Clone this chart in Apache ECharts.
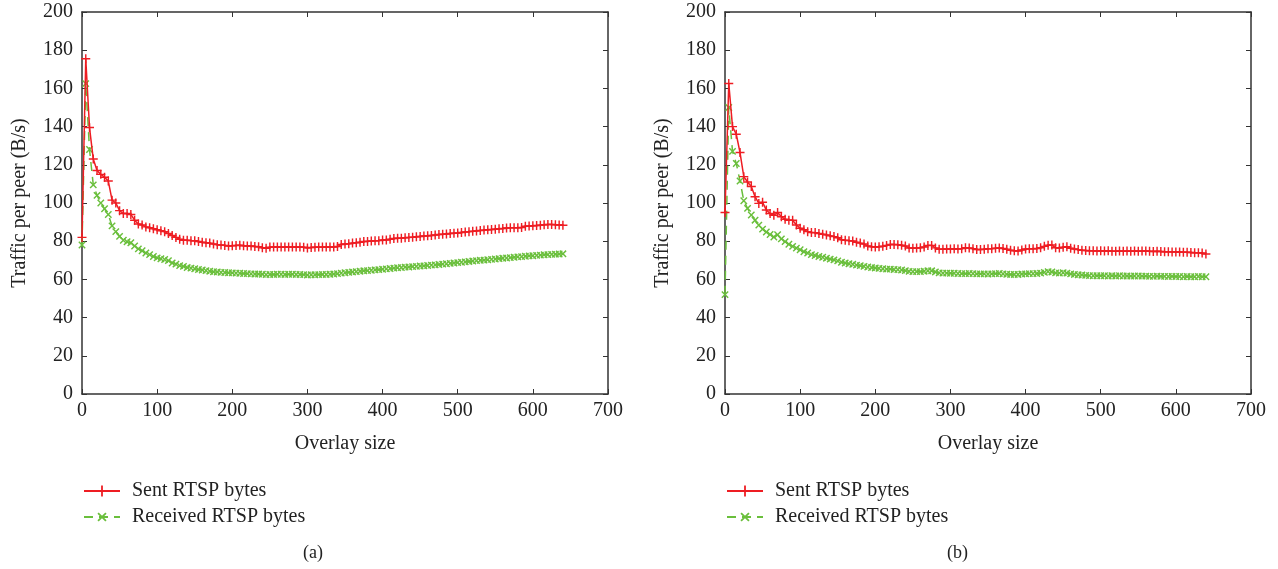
<!DOCTYPE html>
<html><head><meta charset="utf-8">
<script src="https://cdn.jsdelivr.net/npm/echarts@6/dist/echarts.min.js"></script>
<style>html,body{margin:0;padding:0;background:#fff}#c{width:1278px;height:569px}</style>
</head><body><div id="c"></div>
<script>
const overlaySizes = [0,5,10,15,20,25,30,35,40,45,50,55,60,65,70,75,80,85,90,95,100,105,110,115,120,125,130,135,140,145,150,155,160,165,170,175,180,185,190,195,200,205,210,215,220,225,230,235,240,245,250,255,260,265,270,275,280,285,290,295,300,305,310,315,320,325,330,335,340,345,350,355,360,365,370,375,380,385,390,395,400,405,410,415,420,425,430,435,440,445,450,455,460,465,470,475,480,485,490,495,500,505,510,515,520,525,530,535,540,545,550,555,560,565,570,575,580,585,590,595,600,605,610,615,620,625,630,635,640];

const sentA = [82,175.5,139.5,123,117,115,113.5,111.5,101.5,100,
96,94.5,94.5,94,91,89,88.5,87.5,87,86.5,
86,85.5,85,84,83,82,81,80.5,80.5,80.3,
80.2,79.8,79.5,79.2,79,78.5,78.2,78,77.8,77.5,
77.6,77.8,77.9,77.6,77.5,77.5,77.2,77.1,76.6,76.3,
76.9,77,77,76.9,76.9,77,77,76.9,77,76.8,
76.5,76.7,76.8,76.9,76.9,77,77,77,77.2,78.3,
78.5,78.7,79,79.2,79.5,79.8,79.9,80.1,80.2,80.3,
80.6,80.6,81,81.4,81.6,81.6,81.8,82,82.1,82.3,
82.5,82.7,82.8,83,83.2,83.5,83.6,83.8,84,84.2,
84.3,84.6,84.8,85,85.2,85.4,85.6,85.8,86,86.1,
86.3,86.5,86.6,86.9,87,87.1,87,87.2,87.8,88,
88.1,88.2,88.4,88.6,88.7,88.8,88.6,88.5,88.4];

const recvA = [78,162.5,128,109.5,104,100,97,94,88,85,
82.5,80.5,79.7,79.2,77.5,76,75,73.8,73,72,
71.3,70.8,70.4,69.8,68.6,68,67.2,66.8,66.2,65.9,
65.6,65.2,64.9,64.6,64.3,64,63.9,63.7,63.6,63.5,
63.4,63.3,63.2,63.1,63,62.9,62.8,62.8,62.7,62.5,
62.6,62.6,62.7,62.7,62.6,62.7,62.7,62.6,62.6,62.5,
62.3,62.4,62.4,62.5,62.6,62.6,62.7,62.8,63,63.3,
63.5,63.7,63.9,64.1,64.3,64.5,64.6,64.8,65,65.1,
65.3,65.5,65.7,65.9,66.1,66.2,66.4,66.5,66.7,66.8,
67,67.1,67.3,67.5,67.6,67.8,68,68.2,68.4,68.6,
68.8,69,69.2,69.4,69.6,69.8,70,70.1,70.3,70.5,
70.7,70.9,71.1,71.2,71.4,71.6,71.8,71.9,72.1,72.3,
72.4,72.6,72.7,72.9,73,73.1,73.2,73.3,73.4];

const sentB = [95,162.6,140,136,126.4,113.8,111,108.6,103.3,99.8,
100.4,96.3,94.5,93.6,95,92.8,91.5,91,91,88.5,
86.8,86,85,84.5,84.5,84,83.6,83.3,82.8,82.4,
81.8,80.8,80.5,80.3,80.1,79.5,79,78.5,77.5,77.1,
77,77.1,77.4,77.8,78.3,78.3,78.2,77.9,77.5,76.4,
76.3,76.4,76.6,77,77.8,77.8,76.5,75.8,75.8,75.9,
75.9,76,75.9,76.1,76.6,76.4,76.1,75.7,75.6,75.8,
76,76.1,76.3,76.5,76.2,75.8,75.3,75,74.9,75.4,
75.9,76,76,76.2,76.6,77.3,77.9,78,76.6,76.4,
76.8,77.1,76.3,75.9,75.6,75.3,75.1,75,75,74.9,
75,74.9,75,74.8,74.8,74.9,74.7,74.9,74.8,74.9,
74.8,74.9,74.9,74.7,74.6,74.7,74.6,74.5,74.5,74.4,
74.4,74.3,74.2,74.2,74.1,74,74,73.8,73.3];

const recvB = [52,150,127,120.7,111.5,101.2,97.2,93.7,91,88.4,
86.3,84.8,83.5,82.2,83.4,81.2,79.8,78.4,77.3,76.4,
75.5,74.5,73.8,73,72.5,72,71.6,71.1,70.6,70.2,
69.7,69,68.6,68.2,67.9,67.5,67.2,66.8,66.5,66.2,
66,65.8,65.6,65.4,65.4,65.2,65.1,64.9,64.6,64.2,
64.1,64.1,64.1,64.3,64.5,64.5,63.9,63.4,63.3,63.3,
63.2,63.2,63.1,63,63,63.1,63,62.9,62.9,62.9,
62.8,62.9,63,63.1,62.9,62.7,62.6,62.6,62.6,62.8,
62.9,63,63,63.1,63.3,63.7,64.1,63.9,63.4,63.3,
63.5,63.3,62.9,62.6,62.4,62.3,62.1,62,61.9,61.9,
61.9,61.9,61.8,61.9,61.8,61.9,61.8,61.8,61.7,61.8,
61.8,61.7,61.7,61.6,61.6,61.7,61.6,61.6,61.5,61.6,
61.5,61.5,61.4,61.5,61.4,61.4,61.5,61.4,61.4];

const seriesNames = ['Sent RTSP bytes', 'Received RTSP bytes'];
const xTicks = {min: 0, max: 700, interval: 100};
const yTicks = {min: 0, max: 200, interval: 20};
const panelLabels = ['(a)', '(b)'];

const FONT = 'Liberation Serif';
const RED = '#ee1d23';
const GREEN = '#6abf3c';
const PLUS = 'path://M4.2,0H5.8V10H4.2Z M0,4.2H10V5.8H0Z';

const chart = echarts.init(document.getElementById('c'), null, {renderer: 'canvas'});
const pair = ys => overlaySizes.map((x, i) => [x, ys[i]]);

const grids = [
  {left: 82, top: 12, width: 526, height: 382},
  {left: 725, top: 12, width: 526, height: 382}
];
const xAxes = [], yAxes = [];
grids.forEach((g, i) => {
  xAxes.push({
    type: 'value', gridIndex: i, ...xTicks, position: 'bottom',
    name: 'Overlay size', nameLocation: 'middle', nameGap: 40,
    nameTextStyle: {fontFamily: FONT, fontSize: 20, color: '#222'},
    axisLine: {show: true, onZero: false, lineStyle: {color: '#333', width: 1.5}},
    axisTick: {show: true, inside: true, length: 5, lineStyle: {color: '#333'}},
    axisLabel: {fontFamily: FONT, fontSize: 20, color: '#222', margin: 7},
    splitLine: {show: false}
  });
  xAxes.push({
    type: 'value', gridIndex: i, ...xTicks, position: 'top',
    axisLine: {show: true, onZero: false, lineStyle: {color: '#333', width: 1.5}},
    axisTick: {show: true, inside: true, length: 5, lineStyle: {color: '#333'}},
    axisLabel: {show: false}, splitLine: {show: false}
  });
  yAxes.push({
    type: 'value', gridIndex: i, ...yTicks, position: 'left',
    name: 'Traffic per peer (B/s)', nameLocation: 'middle', nameGap: 52,
    nameTextStyle: {fontFamily: FONT, fontSize: 20, color: '#222'},
    axisLine: {show: true, onZero: false, lineStyle: {color: '#333', width: 1.5}},
    axisTick: {show: true, inside: true, length: 5, lineStyle: {color: '#333'}},
    axisLabel: {fontFamily: FONT, fontSize: 20, color: '#222', margin: 9},
    splitLine: {show: false}
  });
  yAxes.push({
    type: 'value', gridIndex: i, ...yTicks, position: 'right',
    axisLine: {show: true, onZero: false, lineStyle: {color: '#333', width: 1.5}},
    axisTick: {show: true, inside: true, length: 5, lineStyle: {color: '#333'}},
    axisLabel: {show: false}, splitLine: {show: false}
  });
});

function sentSeries(ys, gi) {
  return {
    name: seriesNames[0], type: 'line', xAxisIndex: gi * 2, yAxisIndex: gi * 2,
    data: pair(ys), symbol: PLUS, symbolSize: 9, showSymbol: true,
    lineStyle: {color: RED, width: 1.5}, itemStyle: {color: RED},
    animation: false, z: 3
  };
}
function recvSeries(ys, gi) {
  return {
    name: seriesNames[1], type: 'line', xAxisIndex: gi * 2, yAxisIndex: gi * 2,
    data: pair(ys), symbol: PLUS, symbolRotate: 45, symbolSize: 9, showSymbol: true,
    lineStyle: {color: GREEN, width: 1.5, type: [9, 6]}, itemStyle: {color: GREEN},
    animation: false, z: 2
  };
}

const legendBase = (left) => ({
  data: seriesNames, orient: 'vertical', left: left, top: 476,
  itemWidth: 36, itemHeight: 14, itemGap: 6, selectedMode: false,
  textStyle: {fontFamily: FONT, fontSize: 20, color: '#222', padding: [0, 0, 0, 7]}
});

chart.setOption({
  animation: false,
  grid: grids,
  xAxis: xAxes,
  yAxis: yAxes,
  legend: [legendBase(78), legendBase(721)],
  series: [sentSeries(sentA, 0), recvSeries(recvA, 0), sentSeries(sentB, 1), recvSeries(recvB, 1)],
  graphic: [
    {type: 'text', left: 303, top: 544, style: {text: panelLabels[0], font: '18px "Liberation Serif"', fill: '#222'}},
    {type: 'text', left: 947, top: 544, style: {text: panelLabels[1], font: '18px "Liberation Serif"', fill: '#222'}}
  ]
});
</script></body></html>
